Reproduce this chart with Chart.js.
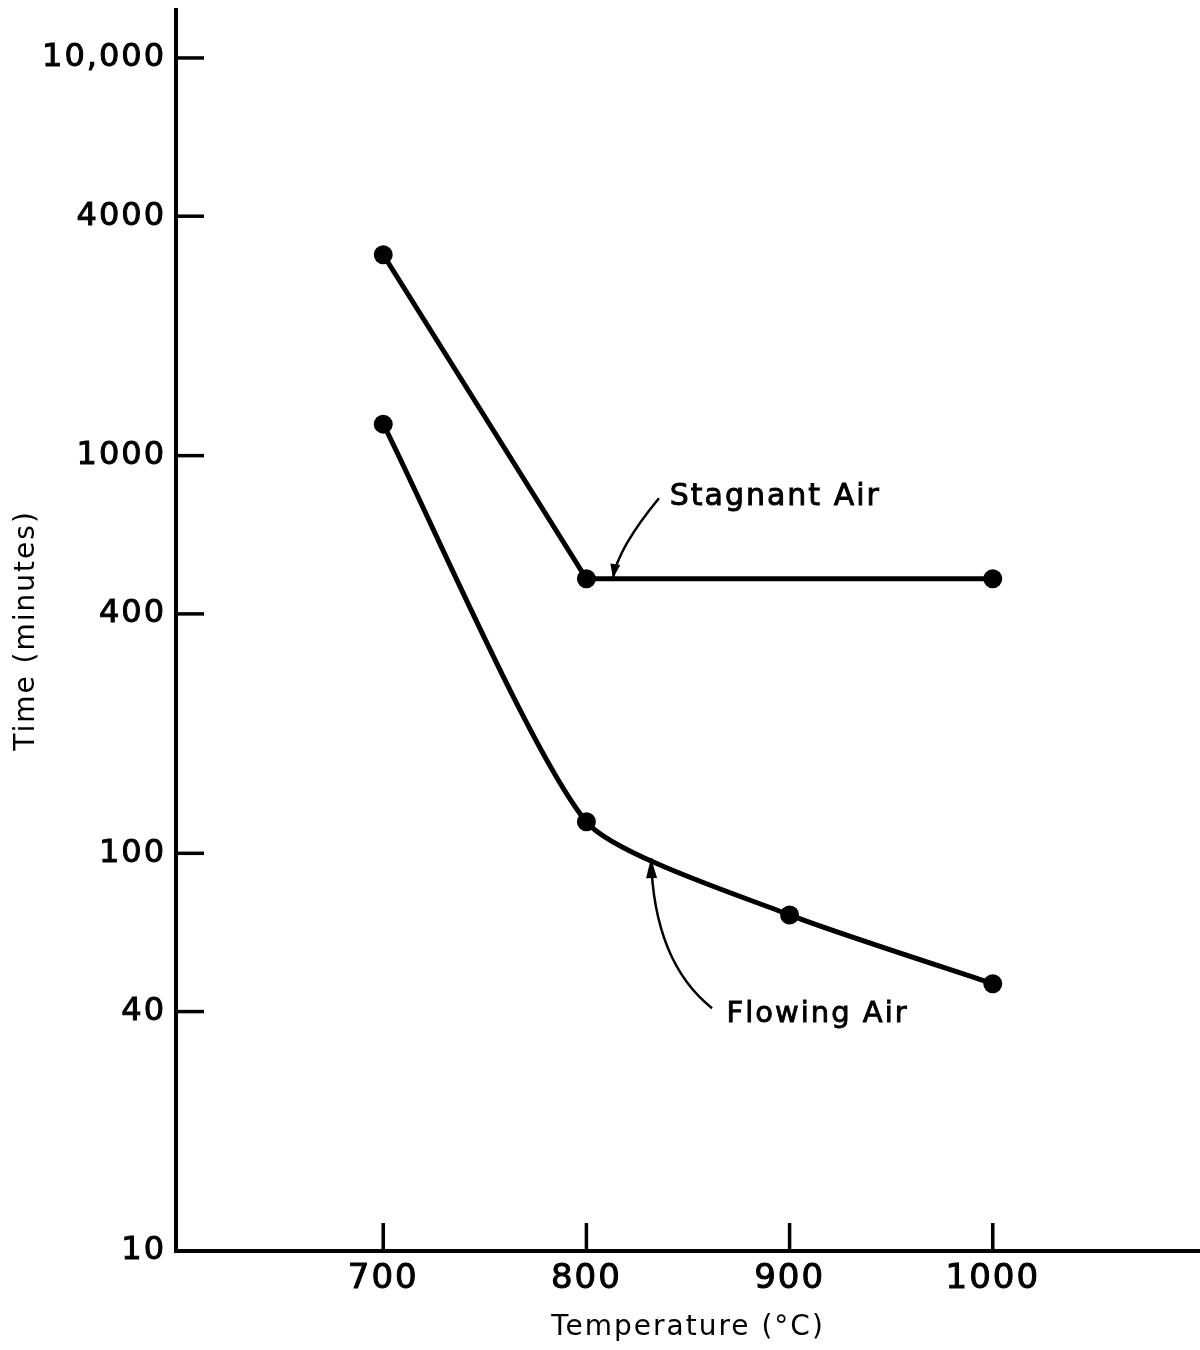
<!DOCTYPE html>
<html><head><meta charset="utf-8">
<script src="https://cdn.jsdelivr.net/npm/chart.js@4/dist/chart.umd.min.js"></script>
<style>html,body{margin:0;padding:0;background:#fff}#wrap{width:1200px;height:1350px;position:relative}</style>
</head><body><div id="wrap"><canvas id="c" width="1200" height="1350"></canvas></div>
<script>
// ---- data ----
const stagnantTemps = [700, 800, 1000];
const stagnantTimes = [3200, 490, 490];
const flowingTemps = [700, 800, 900, 1000];
const flowingTimes = [1200, 120, 70, 47];
const xTickValues = [700, 800, 900, 1000];
const yTickValues = [10, 40, 100, 400, 1000, 4000, 10000];
const yTickLabels = ['10', '40', '100', '400', '1000', '4000', '10,000'];
const seriesNames = ['Stagnant Air', 'Flowing Air'];
const xTitle = 'Temperature (°C)';
const yTitle = 'Time (minutes)';

// annotation anchors (data units)
const labelNotes = [
  {text: 'Stagnant Air', x: 841, y: 750, size: 30,
   from: [835.7, 781], ctrl: [815.5, 585], tip: [813.1, 492], head: [14, 5]},
  {text: 'Flowing Air', x: 869, y: 37.6, size: 29,
   from: [861.8, 40.8], ctrl: [833.2, 53.3], tip: [831.8, 97.3], head: [20, 5.5]}
];

const FONT = "'DejaVu Sans', 'Liberation Sans', sans-serif";

const spacingPlugin = {
  id: 'spacing',
  beforeDraw(chart) { chart.ctx.letterSpacing = '2px'; }
};

const tickMarks = {
  id: 'tickMarks',
  afterDraw(chart) {
    const ctx = chart.ctx, x = chart.scales.x, y = chart.scales.y;
    const area = chart.chartArea;
    ctx.save();
    ctx.strokeStyle = '#000';
    ctx.lineWidth = 3.5;
    ctx.lineCap = 'butt';
    xTickValues.forEach(v => {
      const px = x.getPixelForValue(v);
      ctx.beginPath(); ctx.moveTo(px, area.bottom); ctx.lineTo(px, area.bottom - 28); ctx.stroke();
    });
    yTickValues.forEach(v => {
      const py = y.getPixelForValue(v);
      ctx.beginPath(); ctx.moveTo(area.left, py); ctx.lineTo(area.left + 28, py); ctx.stroke();
    });
    // annotations
    ctx.fillStyle = '#000';
    labelNotes.forEach(n => {
      const P = p => [x.getPixelForValue(p[0]), y.getPixelForValue(p[1])];
      const f = P(n.from), c = P(n.ctrl), t = P(n.tip);
      ctx.lineWidth = 2.5;
      ctx.beginPath(); ctx.moveTo(f[0], f[1]); ctx.quadraticCurveTo(c[0], c[1], t[0], t[1]); ctx.stroke();
      const dx = t[0] - c[0], dy = t[1] - c[1], len = Math.hypot(dx, dy);
      const ux = dx / len, uy = dy / len;
      const L = n.head[0], W = n.head[1];
      const bx = t[0] - ux * L, by = t[1] - uy * L;
      ctx.beginPath();
      ctx.moveTo(t[0], t[1]);
      ctx.lineTo(bx - uy * W, by + ux * W);
      ctx.lineTo(bx + uy * W, by - ux * W);
      ctx.closePath(); ctx.fill();
      ctx.font = n.size + 'px ' + FONT;
      ctx.textAlign = 'left'; ctx.textBaseline = 'alphabetic';
      const tx = x.getPixelForValue(n.x), ty = y.getPixelForValue(n.y);
      ctx.lineWidth = 0.9;
      ctx.fillText(n.text, tx, ty);
      ctx.strokeText(n.text, tx, ty);
    });
    ctx.restore();
  }
};

new Chart(document.getElementById('c'), {
  type: 'line',
  data: {
    datasets: [
      {label: seriesNames[0], data: stagnantTemps.map((t, i) => ({x: t, y: stagnantTimes[i]})),
       borderColor: '#000', backgroundColor: '#000', borderWidth: 5, tension: 0,
       pointRadius: 9.5, pointBorderWidth: 0, pointBackgroundColor: '#000'},
      {label: seriesNames[1], data: flowingTemps.map((t, i) => ({x: t, y: flowingTimes[i]})),
       borderColor: '#000', backgroundColor: '#000', borderWidth: 5, tension: 0.2,
       pointRadius: 9.5, pointBorderWidth: 0, pointBackgroundColor: '#000'}
    ]
  },
  options: {
    responsive: false,
    animation: false,
    devicePixelRatio: 1,
    layout: {autoPadding: false, padding: {left: 0, right: 0, top: 10, bottom: 0}},
    plugins: {legend: {display: false}, tooltip: {enabled: false}},
    scales: {
      x: {
        type: 'linear', min: 598, max: 1102,
        afterBuildTicks: s => { s.ticks = xTickValues.map(v => ({value: v})); },
        afterFit: s => { s.height = 99; s.paddingLeft = 0; s.paddingRight = 0; },
        ticks: {color: '#000', font: {family: FONT, size: 34}, padding: 8, maxRotation: 0, autoSkip: false,
                textStrokeColor: '#000', textStrokeWidth: 1,
                callback: v => String(v)},
        grid: {display: true, drawOnChartArea: false, drawTicks: false},
        border: {display: true, color: '#000', width: 4},
        title: {display: true, text: xTitle, color: '#000', font: {family: FONT, size: 28}, padding: {top: 0, bottom: 5}}
      },
      y: {
        type: 'logarithmic', min: 10, max: 13200,
        afterBuildTicks: s => { s.ticks = yTickValues.map(v => ({value: v})); },
        afterFit: s => { s.width = 176; s.paddingTop = 0; s.paddingBottom = 0; },
        ticks: {color: '#000', font: {family: FONT, size: 32}, padding: 10, autoSkip: false,
                textStrokeColor: '#000', textStrokeWidth: 1,
                callback: v => yTickLabels[yTickValues.indexOf(v)]},
        grid: {display: true, drawOnChartArea: false, drawTicks: false},
        border: {display: true, color: '#000', width: 4},
        title: {display: true, text: yTitle, color: '#000', font: {family: FONT, size: 28}, padding: {top: 10, bottom: 0}}
      }
    }
  },
  plugins: [spacingPlugin, tickMarks]
});
</script>
</body></html>
